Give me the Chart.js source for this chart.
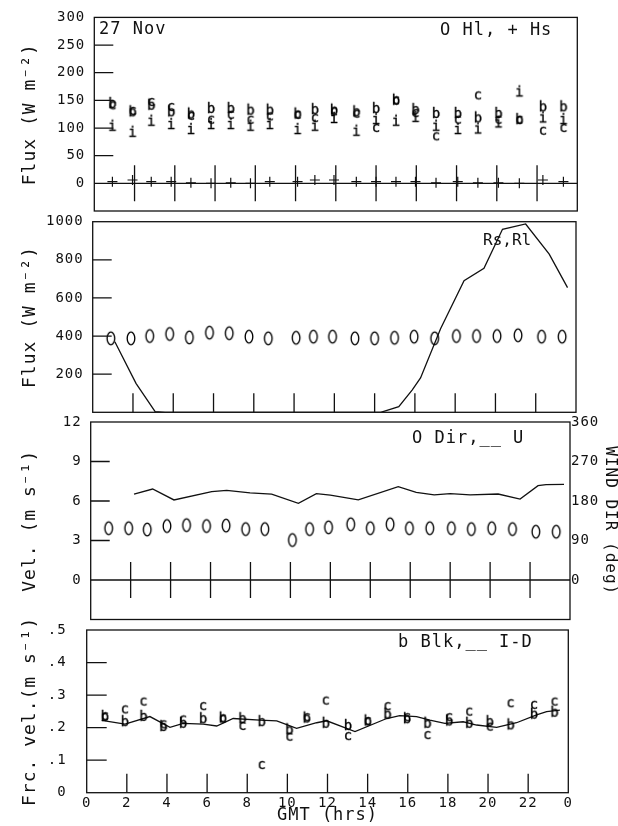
<!DOCTYPE html>
<html>
<head>
<meta charset="utf-8">
<script src="https://cdn.jsdelivr.net/npm/chart.js@4.4.1/dist/chart.umd.min.js"></script>
<style>
  html, body { margin: 0; padding: 0; background: #fff; }
  #wrap { position: relative; width: 618px; height: 826px; }
  #wrap canvas { position: absolute; left: 0; top: 0; }
</style>
</head>
<body>
<div id="wrap">
  <canvas id="p1" width="618" height="826"></canvas>
  <canvas id="p2" width="618" height="826"></canvas>
  <canvas id="p3" width="618" height="826"></canvas>
  <canvas id="p4" width="618" height="826"></canvas>
</div>
<script>
// --- data (27 Nov) ---
const HOURS = [0.9, 1.9, 2.83, 3.82, 4.8, 5.8, 6.78, 7.76, 8.72, 10.1, 10.96, 11.91,
               13.02, 14.0, 14.99, 15.96, 16.98, 18.06, 19.06, 20.08, 21.12, 22.29, 23.31];

// panel 1: latent heat (b, c, i methods) and sensible heat
const HL_B = [147, 132, 144, 132, 128, 138, 138, 135, 135, 128, 136, 135, 132, 138, 153, 136, 129, 129, 121, 129, 118, 141, 141];
const HL_C = [141, 131, 147, 138, 122, 115, 124, 115, 121, 124, 118, 130, 126, 100, 150, 127, 85, 115, 159, 115, 115, 95, 100];
const HL_I = [106, 95, 115, 109, 100, 109, 109, 106, 109, 100, 106, 120, 97, 118, 115, 122, 106, 100, 101, 112, 168, 121, 118];
const HS   = [3, 6, 3, 3, 1, 0, 1, 0, 3, 3, 6, 6, 3, 3, 3, 3, 1, 3, 1, 1, 0, 6, 3];

// panel 2: shortwave (line) and longwave (rings)
const RL = [388, 388, 400, 411, 393, 418, 415, 397, 388, 391, 397, 397, 388, 388, 391, 397, 388, 400, 400, 400, 404, 397, 397];
const RS_HOURS = [1.1, 2.15, 3.1, 3.6, 14.3, 15.2, 15.87, 16.28, 17.28, 18.44, 19.43, 20.35, 21.5, 22.67, 23.58];
const RS       = [370, 152, 3, 0, 0, 30, 118, 180, 440, 690, 755, 960, 988, 830, 654];

// panel 3: wind direction (rings, right axis) and wind speed (line)
const DIR = [118, 118, 115, 123, 125, 123, 124, 116, 116, 91, 116, 120, 127, 118, 127, 118, 118, 118, 116, 118, 116, 110, 110];
const U_HOURS = [2.17, 3.1, 4.17, 6.06, 6.81, 7.98, 9.06, 10.4, 11.3, 12.0, 13.4, 15.4, 16.3, 17.2, 18.0, 19.0, 20.4, 21.5, 22.4, 22.8, 23.7];
const U       = [6.53, 6.91, 6.08, 6.71, 6.81, 6.61, 6.53, 5.82, 6.56, 6.45, 6.08, 7.09, 6.66, 6.46, 6.56, 6.46, 6.53, 6.15, 7.16, 7.24, 7.27];

// panel 4: friction velocity, bulk (b, c) and inertial-dissipation (line)
const UST_B = [.239, .223, .239, .208, .218, .232, .234, .232, .223, .198, .234, .218, .211, .225, .246, .232, .218, .225, .218, .223, .213, .246, .252];
const UST_C = [.235, .256, .280, .210, .225, .266, .228, .205, .085, .172, .232, .283, .174, .220, .266, .232, .177, .232, .249, .203, .275, .270, .280];
const ID_HOURS = [0.75, 1.91, 3.15, 4.15, 4.81, 5.81, 6.48, 7.3, 8.63, 9.47, 10.46, 11.46, 11.96, 13.37, 14.95, 15.6, 16.44, 17.1, 17.85, 18.76, 19.43, 20.43, 21.42, 22.42, 22.92, 23.58];
const ID       = [.222, .211, .234, .201, .213, .211, .205, .228, .223, .221, .198, .215, .221, .188, .228, .237, .234, .223, .213, .218, .208, .201, .215, .239, .249, .254];

// tick values
const HOUR_MARKS  = [2, 4, 6, 8, 10, 12, 14, 16, 18, 20, 22];
const HOUR_LABELS = [0, 2, 4, 6, 8, 10, 12, 14, 16, 18, 20, 22, 24];
const FLUX1_TICKS = [0, 50, 100, 150, 200, 250, 300];
const FLUX2_TICKS = [200, 400, 600, 800, 1000];
const VEL_TICKS   = [0, 3, 6, 9, 12];
const DIR_TICKS   = [0, 90, 180, 270, 360];
const UST_TICKS   = [0, .1, .2, .3, .4, .5];

const INK = '#111';
const FONT = "'DejaVu Sans Mono', monospace";
const W = 618, H = 826;

Chart.defaults.font.family = FONT;
Chart.defaults.color = INK;
Chart.defaults.animation = false;

// letter markers like the plotter used
function glyph(ch) {
    const c = document.createElement('canvas');
    c.width = 16; c.height = 18;
    const g = c.getContext('2d');
    g.font = '14px ' + FONT;
    g.fillStyle = '#000';
    g.strokeStyle = '#000';
    g.lineWidth = 0.35;
    g.textAlign = 'center';
    const m = g.measureText(ch);
    const by = 9 + (m.actualBoundingBoxAscent - m.actualBoundingBoxDescent) / 2;
    g.fillText(ch, 8, by);
    g.strokeText(ch, 8, by);
    return c;
}

function ring() {
    const c = document.createElement('canvas');
    c.width = 12; c.height = 17;
    const g = c.getContext('2d');
    g.strokeStyle = '#000';
    g.lineWidth = 1.35;
    g.beginPath();
    g.ellipse(6, 8.5, 3.8, 6.3, 0, 0, Math.PI * 2);
    g.stroke();
    return c;
}

const pairs = (xs, ys) => xs.map((x, i) => ({ x, y: ys[i] }));

function marks(values, style, extra) {
    return Object.assign({
        data: pairs(HOURS, values),
        pointStyle: style,
        pointRadius: 4,
        showLine: false
    }, extra || {});
}

function line(xs, ys) {
    return {
        data: pairs(xs, ys),
        showLine: true,
        borderColor: INK,
        borderWidth: 1.3,
        pointRadius: 0,
        tension: 0
    };
}

// box, zero line, inward ticks, hour marks and the little legends
function framePlugin(cfg) {
    return {
        id: 'frame',
        beforeDraw(chart) { chart.ctx.letterSpacing = '1px'; },
        afterDatasetsDraw(chart) {
            const { ctx, chartArea: a, scales } = chart;
            const x = scales.x, y = scales.y;
            ctx.save();
            ctx.strokeStyle = INK;
            ctx.lineWidth = 1.3;
            ctx.strokeRect(a.left, a.top, a.right - a.left, a.bottom - a.top);
            ctx.beginPath();
            y.ticks.forEach(t => {
                if (t.value <= y.min || t.value >= y.max || t.value === 0) return;
                const py = y.getPixelForValue(t.value);
                ctx.moveTo(a.left, py);
                ctx.lineTo(a.left + cfg.tickLen, py);
            });
            const crossing = y.min < 0;
            const base = crossing ? y.getPixelForValue(0) : a.bottom;
            if (crossing) {
                ctx.moveTo(a.left, base);
                ctx.lineTo(a.right, base);
            }
            HOUR_MARKS.forEach(hr => {
                const px = x.getPixelForValue(hr);
                if (crossing) {
                    ctx.moveTo(px, base - 18);
                    ctx.lineTo(px, base + 18);
                } else {
                    ctx.moveTo(px, a.bottom);
                    ctx.lineTo(px, a.bottom - 19);
                }
            });
            ctx.stroke();
            ctx.fillStyle = INK;
            ctx.textAlign = 'left';
            ctx.textBaseline = 'middle';
            cfg.notes.forEach(n => {
                ctx.letterSpacing = (n.spacing === undefined ? 1 : n.spacing) + 'px';
                ctx.font = n.size + 'px ' + FONT;
                ctx.fillText(n.text, n.x, n.y);
            });
            ctx.restore();
        }
    };
}

function yAxis(min, max, ticks, fmt, width, title, pad) {
    return {
        type: 'linear',
        position: 'left',
        min, max,
        afterBuildTicks: s => { s.ticks = ticks.map(v => ({ value: v })); },
        afterFit: s => { s.width = width; },
        grid: { display: false, drawTicks: false },
        border: { display: false },
        ticks: { padding: pad, font: { size: 14 }, callback: fmt },
        title: { display: true, text: title, font: { size: 18, lineHeight: 1.2 }, padding: { top: 20, bottom: 0 } }
    };
}

function hiddenX() {
    return { type: 'linear', min: 0, max: 24, display: false };
}

function makePanel(id, box, datasets, scales, notes, tickLen, padBottom, padRight) {
    return new Chart(document.getElementById(id), {
        type: 'scatter',
        data: { datasets },
        options: {
            responsive: false,
            layout: { padding: { top: box.top, left: 0, right: padRight, bottom: padBottom } },
            plugins: { legend: { display: false }, tooltip: { enabled: false } },
            scales
        },
        plugins: [framePlugin({ tickLen, notes })]
    });
}

const plain = v => String(v);

// panel 1
const B1 = { left: 94.3, right: 577.3, top: 13.3, bottom: 211 };
makePanel('p1', B1, [
    marks(HL_C, glyph('c')),
    marks(HL_I, glyph('i')),
    marks(HL_B, glyph('b')),
    marks(HS, 'cross', { pointRadius: 5, borderColor: INK, borderWidth: 1.2 })
], {
    x: hiddenX(),
    y: yAxis(-50, 300, FLUX1_TICKS, plain, B1.left, 'Flux (W m⁻²)', 9)
}, [
    { text: '27 Nov', x: 99, y: 30, size: 17 },
    { text: 'O Hl, + Hs', x: 440, y: 31, size: 17 }
], 19, H - B1.bottom, W - B1.right);

// panel 2
const B2 = { left: 92.7, right: 576, top: 221.7, bottom: 412.3 };
makePanel('p2', B2, [
    marks(RL, ring()),
    line(RS_HOURS, RS)
], {
    x: hiddenX(),
    y: yAxis(0, 1000, FLUX2_TICKS, plain, B2.left, 'Flux (W m⁻²)', 9)
}, [
    { text: 'Rs,Rl', x: 483, y: 241, size: 16, spacing: 0 }
], 19, H - B2.bottom, W - B2.right);

// panel 3
const B3 = { left: 90.7, right: 570, top: 422, bottom: 619.5 };
makePanel('p3', B3, [
    Object.assign(marks(DIR, ring()), { yAxisID: 'dir' }),
    line(U_HOURS, U)
], {
    x: hiddenX(),
    y: yAxis(-3, 12, VEL_TICKS, plain, B3.left, 'Vel. (m s⁻¹)', 9),
    dir: {
        type: 'linear',
        position: 'right',
        min: -90, max: 360,
        afterBuildTicks: s => { s.ticks = DIR_TICKS.map(v => ({ value: v })); },
        afterFit: s => { s.width = W - B3.right; },
        grid: { display: false, drawTicks: false },
        border: { display: false },
        ticks: { padding: 1, font: { size: 14 }, callback: plain },
        title: { display: true, text: 'WIND DIR (deg)', font: { size: 16, lineHeight: 1 }, padding: 0 }
    }
}, [
    { text: 'O Dir,__ U', x: 412, y: 439, size: 17 }
], 19, H - B3.bottom, 0);

// panel 4
const B4 = { left: 86.7, right: 568.3, top: 630, bottom: 792.7 };
makePanel('p4', B4, [
    marks(UST_C, glyph('c')),
    marks(UST_B, glyph('b')),
    line(ID_HOURS, ID)
], {
    x: {
        type: 'linear',
        min: 0, max: 24,
        afterBuildTicks: s => { s.ticks = HOUR_LABELS.map(v => ({ value: v })); },
        afterFit: s => { s.height = H - B4.bottom; },
        grid: { display: false, drawTicks: false },
        border: { display: false },
        ticks: { padding: 2, autoSkip: false, maxRotation: 0, font: { size: 14 }, callback: v => (v === 24 ? '0' : String(v)) },
        title: { display: true, text: 'GMT (hrs)', font: { size: 17, lineHeight: 1 }, padding: { top: 0, bottom: 1.5 } }
    },
    y: yAxis(0, 0.5, UST_TICKS, v => (v === 0 ? '0' : String(v).replace('0.', '.')), B4.left, 'Frc. vel.(m s⁻¹)', 20)
}, [
    { text: 'b Blk,__ I-D', x: 398, y: 643, size: 17 }
], 20, 0, W - B4.right);
</script>
</body>
</html>
